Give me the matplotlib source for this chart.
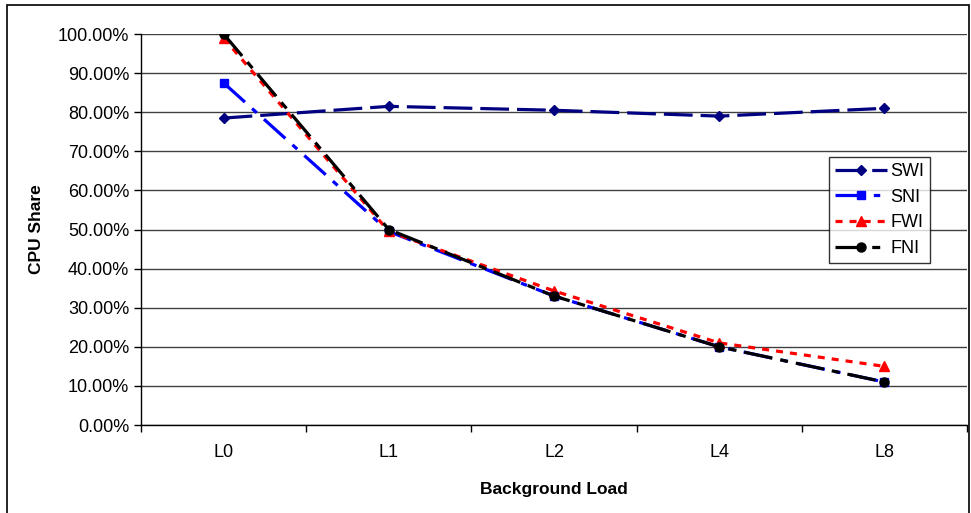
import matplotlib.pyplot as plt
from matplotlib.patches import Rectangle
from matplotlib.ticker import FuncFormatter

plt.rcParams['font.family'] = ['Liberation Sans', 'DejaVu Sans']

loads = ['L0', 'L1', 'L2', 'L4', 'L8']
swi = [78.5, 81.5, 80.5, 79.0, 81.0]
sni = [87.5, 49.5, 33.0, 20.0, 11.0]
fwi = [99.0, 49.5, 34.3, 21.0, 15.0]
fni = [100.0, 50.0, 33.0, 20.0, 11.0]

fig = plt.figure(figsize=(9.71, 5.13), dpi=100)
fig.patches.append(Rectangle((0.007, -0.01), 0.991, 1.0, transform=fig.transFigure,
                             fill=False, edgecolor='black', linewidth=1.2))
ax = fig.add_axes([0.1452, 0.1715, 0.8507, 0.7622])

xs = [i + 0.5 for i in range(len(loads))]

ax.plot(xs, swi, color='#000080', lw=2.3, dashes=(9, 2.5), marker='D', ms=5.5, label='SWI')
ax.plot(xs, sni, color='#0000FF', lw=2.3, dashes=(9, 3, 2, 3), marker='s', ms=6, label='SNI')
ax.plot(xs, fwi, color='#FF0000', lw=2.3, dashes=(2.2, 2.2), marker='^', ms=7, label='FWI')
ax.plot(xs, fni, color='black', lw=2.3, dashes=(9, 2.5, 2.5, 2.5), marker='o', ms=6.5, label='FNI')

ax.set_xlim(0, 5)
ax.set_ylim(0, 100)
ax.set_yticks(range(0, 101, 10))
ax.yaxis.set_major_formatter(FuncFormatter(lambda v, p: '%.2f%%' % v))
ax.set_xticks(range(0, 6))
ax.set_xticklabels([])
ax.set_xticks(xs, minor=True)
ax.set_xticklabels(loads, minor=True)
ax.tick_params(axis='x', which='major', direction='out', length=5, width=1)
ax.tick_params(axis='x', which='minor', length=0, pad=14, labelsize=13)
ax.tick_params(axis='y', direction='out', length=5, width=1, labelsize=13)

ax.grid(axis='y', color='black', lw=1, alpha=0.75)
ax.set_axisbelow(True)
for s in ['top', 'right']:
    ax.spines[s].set_visible(False)
ax.spines['left'].set_linewidth(1)
ax.spines['bottom'].set_linewidth(1)

ax.set_xlabel('Background Load', fontsize=12.5, fontweight='bold', labelpad=15)
ax.set_ylabel('CPU Share', fontsize=12.5, fontweight='bold', labelpad=10)

leg = ax.legend(loc='upper left', bbox_to_anchor=(0.8325, 0.686), fontsize=13,
                frameon=True, fancybox=False, handlelength=2.9, handletextpad=0.15,
                borderpad=0.35, labelspacing=0.48, borderaxespad=0)
leg.get_frame().set_edgecolor('black')
leg.get_frame().set_linewidth(1)

fig.savefig('out.png', dpi=100)
